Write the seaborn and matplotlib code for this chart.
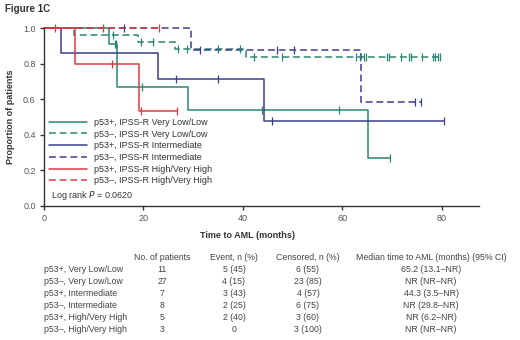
import numpy as np
import pandas as pd
import matplotlib.pyplot as plt
import seaborn as sns
from matplotlib.lines import Line2D

# legend labels / table row labels
legend_labels = ['p53+, IPSS-R Very Low/Low', 'p53\u2013, IPSS-R Very Low/Low',
                 'p53+, IPSS-R Intermediate', 'p53\u2013, IPSS-R Intermediate',
                 'p53+, IPSS-R High/Very High', 'p53\u2013, IPSS-R High/Very High']
row_labels = ['p53+, Very Low/Low', 'p53\u2013, Very Low/Low', 'p53+, Intermediate',
              'p53\u2013, Intermediate', 'p53+, High/Very High', 'p53\u2013, High/Very High']

# KM curves: event times, survival after each event, censor times
event_times = [[13.0, 14.6, 29.0, 65.2],
               [6.0, 19.0, 26.4, 40.6],
               [3.5, 23.0, 44.3],
               [29.6, 63.8],
               [6.2, 19.2],
               []]
surv_after = [[0.909, 0.67, 0.54, 0.27],
              [0.963, 0.924, 0.884, 0.838],
              [0.857, 0.714, 0.476],
              [0.875, 0.583],
              [0.80, 0.533],
              []]
censor_times = [[14.2, 14.4, 19.8, 43.8, 59.4, 69.6],
                [13.9, 19.6, 21.9, 27.0, 28.8, 35.0, 39.4, 42.2, 47.8, 62.8, 63.6, 64.4,
                 64.8, 69.0, 69.4, 71.8, 73.4, 73.8, 76.0, 78.2, 78.6, 79.2, 79.6],
                [26.6, 34.9, 45.8, 80.4],
                [16.0, 31.4, 46.8, 50.2, 74.6, 75.8],
                [13.6, 19.5, 26.8],
                [2.2, 11.9, 23.2]]

# table
n_patients = ['11', '27', '7', '8', '5', '3']
events_n = ['5 (45)', '4 (15)', '3 (43)', '2 (25)', '2 (40)', '0']
censored_n = ['6 (55)', '23 (85)', '4 (57)', '6 (75)', '3 (60)', '3 (100)']
median_ci = ['65.2 (13.1\u2013NR)', 'NR (NR\u2013NR)', '44.3 (3.5\u2013NR)',
             'NR (29.8\u2013NR)', 'NR (6.2\u2013NR)', 'NR (NR\u2013NR)']
table_header = ['No. of patients', 'Event, n (%)', 'Censored, n (%)',
                'Median time to AML (months) (95% CI)']

colors = ['#2b8572', '#2b8572', '#3c3e8e', '#3c3e8e', '#e03a40', '#e03a40']
styles = ['-', '--', '-', '--', '-', '--']

sns.set_theme(style='ticks')
plt.rcParams['font.family'] = ['Liberation Sans', 'DejaVu Sans']

W, H = 520, 340
fig = plt.figure(figsize=(5.2, 3.4), dpi=100)
ax = fig.add_axes([44 / W, 1 - 206 / H, (479 - 44) / W, (206 - 28) / H])

draw_order = [1, 3, 0, 2, 4, 5]
for i in draw_order:
    t_end = max(event_times[i] + censor_times[i])
    t = [0.0] + event_times[i] + [t_end]
    s = [1.0] + surv_after[i] + [([1.0] + surv_after[i])[-1]]
    curve = pd.DataFrame({'time': t, 'surv': s})
    sns.lineplot(data=curve, x='time', y='surv', drawstyle='steps-post', estimator=None,
                 color=colors[i], linestyle=styles[i], linewidth=1.1, ax=ax,
                 clip_on=False, dashes=False)
    if styles[i] == '--':
        ax.lines[-1].set_linestyle((0, (4.5, 2.5)))
    # censor marks sit on the curve
    ct = np.array(censor_times[i])
    idx = np.searchsorted(np.array(event_times[i]), ct, side='right')
    cy = np.array([1.0] + surv_after[i])[idx]
    marks = pd.DataFrame({'time': ct, 'surv': cy})
    sns.scatterplot(data=marks, x='time', y='surv', marker='|', s=30, linewidth=0.9,
                    color=colors[i], ax=ax, clip_on=False, zorder=3)

ax.set_xlim(0, 87.5)
ax.set_ylim(0, 1.0)
ax.set_xticks([0, 20, 40, 60, 80])
ax.set_yticks([0.0, 0.2, 0.4, 0.6, 0.8, 1.0])
ax.set_yticklabels(['0.0', '0.2', '0.4', '0.6', '0.8', '1.0'])
ax.tick_params(labelsize=6.5, labelcolor='#555555', length=3, width=1, color='#333333', pad=3)
for sp in ['top', 'right']:
    ax.spines[sp].set_visible(False)
for sp in ['left', 'bottom']:
    ax.spines[sp].set_color('#333333')
    ax.spines[sp].set_linewidth(1)
ax.set_xlabel('')
ax.set_ylabel('Proportion of patients', fontsize=6.5, fontweight='bold', color='#333333', labelpad=6)

handles = [Line2D([0], [0], color=colors[i], linestyle=styles[i] if styles[i] == '-' else (0, (4.5, 2.5)),
                  linewidth=1.1) for i in range(6)]
ax.legend(handles, legend_labels, loc='lower left', bbox_to_anchor=(0.0, 0.085), frameon=False,
          fontsize=6.5, handlelength=4.2, handletextpad=0.7, labelspacing=0.3,
          borderaxespad=0.2, labelcolor='#333333')
ax.text(0.015, 0.02, 'Log rank $\\it{P}$ = 0.0620', transform=ax.transAxes, fontsize=6.5,
        color='#333333', va='bottom')

fig.text(5 / W, 1 - 9 / H, 'Figure 1C', fontsize=7, fontweight='bold', color='#333333', va='center')
fig.text(248 / W, 1 - 236 / H, 'Time to AML (months)', fontsize=6.5, fontweight='bold',
         color='#333333', ha='center', va='center')

col_x = [162, 234, 308, 431]
fig_y = lambda py: 1 - py / H
for j, head in enumerate(table_header):
    fig.text(col_x[j] / W, fig_y(257), head, fontsize=6.3, color='#444444', ha='center', va='center')
for r in range(6):
    py = 269 + 12.2 * r
    fig.text(44 / W, fig_y(py), row_labels[r], fontsize=6.3, color='#444444', ha='left', va='center')
    for j, col in enumerate([n_patients, events_n, censored_n, median_ci]):
        fig.text(col_x[j] / W, fig_y(py), col[r], fontsize=6.3, color='#444444', ha='center', va='center')

fig.savefig('out.png', dpi=100)
